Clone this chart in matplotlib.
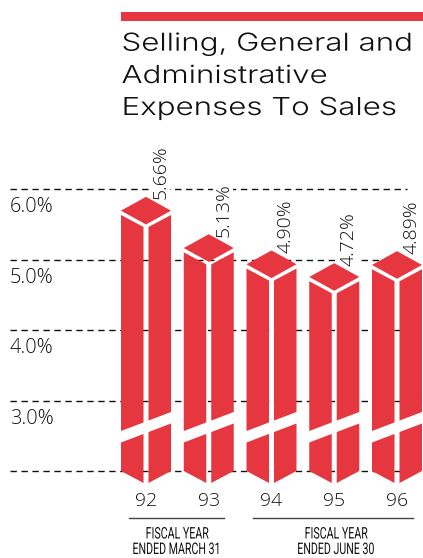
import matplotlib
matplotlib.use('Agg')
import matplotlib.pyplot as plt
from matplotlib.patheffects import AbstractPathEffect
from matplotlib.transforms import Affine2D

years = ['92', '93', '94', '95', '96']
values = [5.66, 5.13, 4.90, 4.72, 4.89]
value_labels = ['5.66%', '5.13%', '4.90%', '4.72%', '4.89%']
grid_values = [6.0, 5.0, 4.0, 3.0, 2.0]
tick_labels = ['6.0%', '5.0%', '4.0%', '3.0%']
title_lines = ['Selling, General and', 'Administrative', 'Expenses To Sales']
group_labels = [['FISCAL YEAR', 'ENDED MARCH 31'], ['FISCAL YEAR', 'ENDED JUNE 30']]

red = '#e63740'
ink = '#111111'
W, H = 423, 558
px = 1 / 70.5      # one pixel in value units
y_base = 2.0       # bars stand on this value
y0_px = 471        # pixel row of y_base


class Stretch(AbstractPathEffect):
    # scale glyphs horizontally about the middle or the start of the string
    def __init__(self, sx, centred=False):
        super().__init__()
        self.sx = sx
        self.centred = centred

    def draw_path(self, renderer, gc, tpath, affine, rgbFace=None):
        ext = tpath.get_extents()
        cx = (ext.x0 + ext.x1) / 2 if self.centred else 0
        tr = Affine2D().translate(-cx, 0).scale(self.sx, 1).translate(cx, 0)
        renderer.draw_path(gc, tpath, tr + affine, rgbFace)


fig = plt.figure(figsize=(W / 100, H / 100), dpi=100)
ax = fig.add_axes([0, 0, 1, 1])
ax.set_xlim(0, W)
ax.set_ylim(y_base - (H - y0_px) * px, y_base + y0_px * px)
ax.axis('off')


def ypos(row):
    # pixel row -> value axis
    return y_base + (y0_px - row) * px


def draw_bar(x, value):
    w = 50.
    mid = x + w / 2
    c = value + 2.3 * px   # cap centre
    rise = 13.8 * px
    gap = 2.5
    ax.fill([x, mid, x + w, mid], [c, c + rise, c, c - rise], color=red, lw=0, zorder=3)
    # faces, broken by a slanted white band
    top = c - 4.3 * px
    drop = 12 * px
    cut_hi = lambda xx: ypos(431 - (xx - x) * 0.38)
    cut_lo = lambda xx: ypos(442.5 - (xx - x) * 0.38)
    for a, b in [(x, mid - gap), (x + w, mid + gap)]:
        ax.fill([a, b, b, a], [top, top - drop, cut_hi(b), cut_hi(a)], color=red, lw=0, zorder=3)
        ax.fill([a, b, b, a], [cut_lo(a), cut_lo(b), y_base - drop, y_base], color=red, lw=0, zorder=3)


# dashed rules behind the bars
for g in grid_values:
    ax.plot([10, 407], [g, g], color='#111111', lw=1.0, dashes=(4.6, 3.3), zorder=1)

bar_x = [121 + 62.75 * i for i in range(len(values))]
for x, v, yr, lab in zip(bar_x, values, years, value_labels):
    draw_bar(x, v)
    ax.text(x + 39.5, v + 13.5 * px, lab, rotation=90, ha='center', va='bottom',
            fontsize=14, family='Open Sans', weight=300, color=ink, zorder=2,
            bbox=dict(fc='white', ec='none', pad=0.5))
    ax.text(x + 25, ypos(501), yr, ha='center', va='center', fontsize=14,
            family='Open Sans', weight=300, color=ink)

for g, lab in zip(grid_values, tick_labels):
    ax.text(10, g - 18 * px, lab, ha='left', va='center', fontsize=14.3,
            family='Open Sans', weight=300, color=ink)

# red band and heading
ax.fill([121, 423, 423, 121], [ypos(12), ypos(12), ypos(20.7), ypos(20.7)], color=red, lw=0)
for line, row in zip(title_lines, [50.7, 83, 115]):
    t = ax.text(121.5, ypos(row), line, ha='left', va='baseline', fontsize=17.8,
                family='Inter', weight=300, color='#111111')
    t.set_path_effects([Stretch(1.265)])

# fiscal year brackets
for (x1, x2), cx, lines in zip([(128.5, 224), (253, 413)], [177, 336], group_labels):
    ax.plot([x1, x2], [ypos(517.7)] * 2, color='#444444', lw=1.0)
    for line, row in zip(lines, [534, 549.5]):
        t = ax.text(cx, ypos(row), line, ha='center', va='center', fontsize=11.5,
                    family='Roboto', color=ink)
        t.set_path_effects([Stretch(0.665, centred=True)])

fig.savefig('out.png', dpi=100)
